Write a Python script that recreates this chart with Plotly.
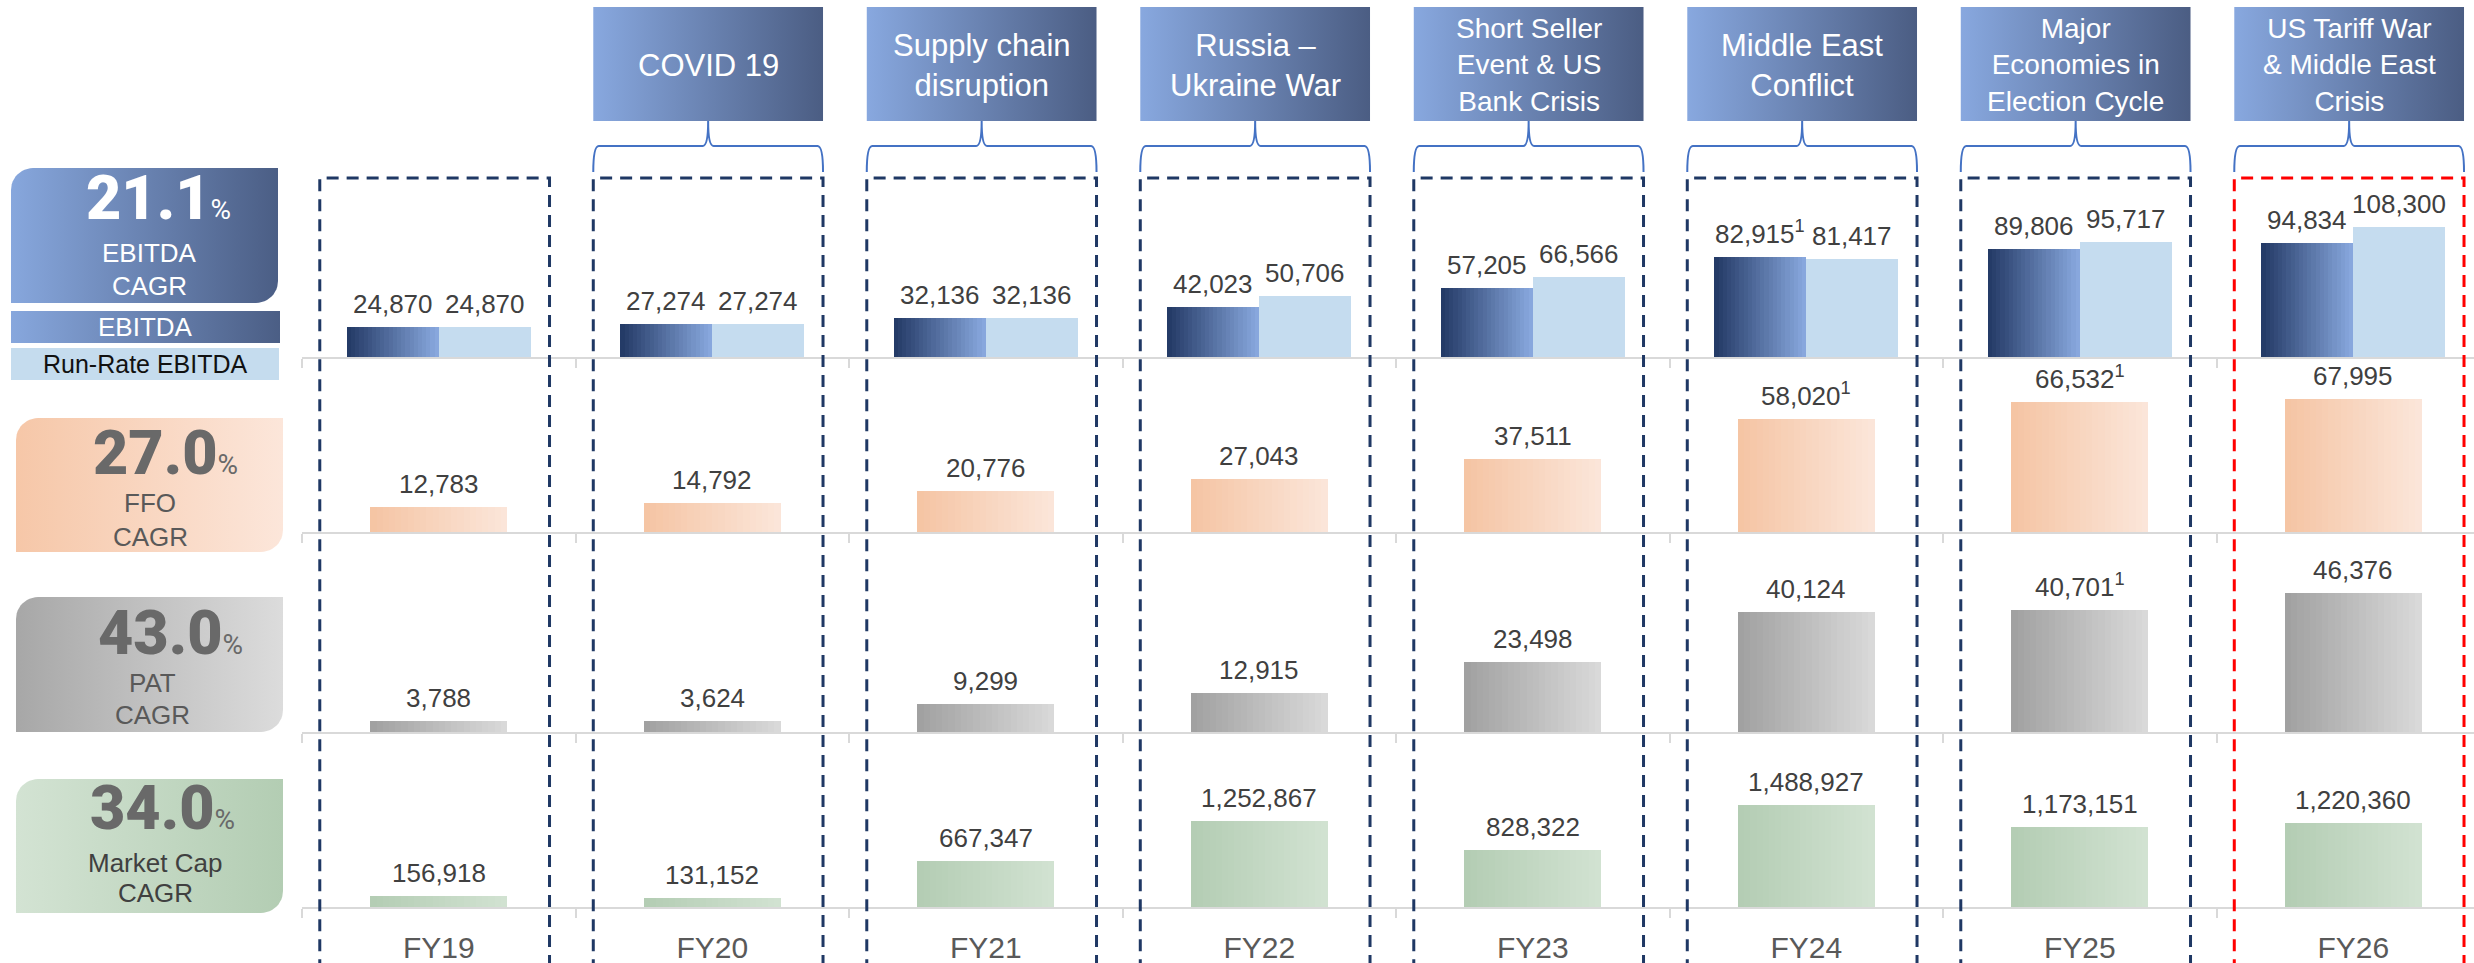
import numpy as np
import plotly.graph_objects as go

W, H = 2474, 963

# ---------------- data ----------------
categories = ["FY19", "FY20", "FY21", "FY22", "FY23", "FY24", "FY25", "FY26"]
ebitda = [24870, 27274, 32136, 42023, 57205, 82915, 89806, 94834]
ebitda_note = [0, 0, 0, 0, 0, 1, 0, 0]
run_rate_ebitda = [24870, 27274, 32136, 50706, 66566, 81417, 95717, 108300]
ffo = [12783, 14792, 20776, 27043, 37511, 58020, 66532, 67995]
ffo_note = [0, 0, 0, 0, 0, 1, 1, 0]
pat = [3788, 3624, 9299, 12915, 23498, 40124, 40701, 46376]
pat_note = [0, 0, 0, 0, 0, 0, 1, 0]
market_cap = [156918, 131152, 667347, 1252867, 828322, 1488927, 1173151, 1220360]
mcap_note = [0, 0, 0, 0, 0, 0, 0, 0]
events = ["", "COVID 19", "Supply chain<br>disruption", "Russia –<br>Ukraine War",
          "Short Seller<br>Event & US<br>Bank Crisis", "Middle East<br>Conflict",
          "Major<br>Economies in<br>Election Cycle", "US Tariff War<br>& Middle East<br>Crisis"]
highlight_year = "FY26"
cagr_metrics = ["EBITDA", "FFO", "PAT", "Market Cap"]
cagr_values = [21.1, 27.0, 43.0, 34.0]

# ---------------- helpers ----------------
FONT = "Liberation Sans, Arial, sans-serif"
NUMFONT = "Roboto, Liberation Sans, Arial, sans-serif"


def hex2rgb(h):
    h = h.lstrip("#")
    return tuple(int(h[i:i + 2], 16) for i in (0, 2, 4))


def mix(c0, c1, t):
    a, b = hex2rgb(c0), hex2rgb(c1)
    return "rgb(%d,%d,%d)" % tuple(round(a[k] + (b[k] - a[k]) * t) for k in range(3))


def label(v, note):
    s = f"{v:,}"
    return s + ("<sup>1</sup>" if note else "")


fig = go.Figure()
xpos = list(range(len(categories)))


def grad_bars(vals, xa, ya, off, bw, c0, c1, n=22):
    for i in range(n):
        fig.add_trace(go.Bar(
            x=xpos, y=vals, offset=off + i * bw / n, width=bw - i * bw / n,
            marker=dict(color=mix(c0, c1, (i + 0.5) / n), line=dict(width=0)),
            xaxis=xa, yaxis=ya, hoverinfo="skip", showlegend=False))


# ---------------- axes ----------------
X0 = 302 / W
XR = [-0.5, 7.5 - 16 / 273.5]
panels = [(357, 178), (532, 357), (732, 532), (907, 732)]  # baseline px, top px
yranges = [149100, 89470, 66730, 2555000]

layout = dict(
    width=W, height=H, margin=dict(l=0, r=0, t=0, b=0),
    paper_bgcolor="white", plot_bgcolor="rgba(0,0,0,0)",
    barmode="overlay", bargap=0, bargroupgap=0, showlegend=False,
    font=dict(family=FONT),
)
for k in range(4):
    xn = "xaxis" if k == 0 else f"xaxis{k + 1}"
    yn = "yaxis" if k == 0 else f"yaxis{k + 1}"
    base, top = panels[k]
    layout[yn] = dict(domain=[1 - base / H, 1 - top / H], range=[0, yranges[k]],
                      visible=False, fixedrange=True)
    layout[xn] = dict(
        domain=[X0, 1], range=XR, anchor="y" if k == 0 else f"y{k + 1}",
        showline=True, linecolor="#d9d9d9", linewidth=2, showgrid=False, zeroline=False,
        tickmode="array", tickvals=xpos, ticktext=categories, ticks="",
        showticklabels=(k == 3), ticklabelstandoff=13,
        tickfont=dict(size=30, color="#595959", family=FONT),
        minor=dict(tickmode="array", tickvals=[i - 0.5 for i in range(9)], ticks="outside",
                   ticklen=9, tickwidth=2, tickcolor="#d9d9d9", showgrid=False),
        fixedrange=True)
# top band for event boxes (pixel units from the top)
layout["yaxis5"] = dict(domain=[1 - 178 / H, 1], range=[178, 0], visible=False, anchor="x")
# full-figure pixel overlay for the left-hand legend boxes
layout["xaxis6"] = dict(domain=[0, 1], range=[0, W], visible=False, anchor="y6")
layout["yaxis6"] = dict(domain=[0, 1], range=[H, 0], visible=False, anchor="x6")
fig.update_layout(**layout)


# ---------------- left legend boxes ----------------
def rrect(x0, y0, x1, y1, r, n=12):
    xs, ys = [], []
    if r > 0:
        for k in range(n + 1):
            a = np.pi + k * (np.pi / 2) / n
            xs.append(x0 + r + r * np.cos(a)); ys.append(y0 + r + r * np.sin(a))
    else:
        xs.append(x0); ys.append(y0)
    xs.append(x1); ys.append(y0)
    if r > 0:
        for k in range(n + 1):
            a = k * (np.pi / 2) / n
            xs.append(x1 - r + r * np.cos(a)); ys.append(y1 - r + r * np.sin(a))
    else:
        xs.append(x1); ys.append(y1)
    xs.append(x0); ys.append(y1)
    xs.append(xs[0]); ys.append(ys[0])
    return xs, ys


def grad_poly(xs, ys, c0, c1, xa, ya):
    fig.add_trace(go.Scatter(
        x=xs, y=ys, mode="lines", line=dict(width=0, color=c0), fill="toself",
        fillcolor=c0,
        fillgradient=dict(type="horizontal", colorscale=[[0, c0], [1, c1]]),
        xaxis=xa, yaxis=ya, hoverinfo="skip", showlegend=False))


EB0, EB1 = "#87a7dd", "#4b5e85"
left_boxes = [
    ((11, 168, 278, 303, 22), EB0, EB1),
    ((11, 311, 280, 343, 0), EB0, EB1),
    ((11, 348, 279, 380, 0), "#c5dcee", "#c5dcee"),
    ((16, 418, 283, 552, 22), "#f6c7a8", "#fce6da"),
    ((16, 597, 283, 732, 22), "#a7a7a7", "#dcdcdc"),
    ((16, 779, 283, 913, 22), "#d3e3d3", "#b3cdb3"),
]
for (x0, y0, x1, y1, r), c0, c1 in left_boxes:
    xs, ys = rrect(x0, y0, x1, y1, r)
    grad_poly(xs, ys, c0, c1, "x6", "y6")

ann = []


def txt(x, y, t, size, color, family=FONT, weight=None, xref="x6", yref="y6"):
    f = dict(size=size, color=color, family=family)
    if weight:
        f["weight"] = weight
    ann.append(dict(x=x, y=y, xref=xref, yref=yref, text=t, showarrow=False,
                    font=f, xanchor="center", yanchor="middle"))


cagr_layout = [  # (number x, number y, name lines y, name x, num color, text color)
    (158, 198, [253, 286], 149, "white", "white"),
    (165, 453, [503, 537], 150, "#696969", "#595959"),
    (170, 633, [683, 715], 152, "#696969", "#595959"),
    (162, 808, [863, 893], 155, "#696969", "#404040"),
]
for (nx, ny, ly, lx, nc, tc), name, val in zip(cagr_layout, cagr_metrics, cagr_values):
    txt(nx, ny, f"{val:.1f}<span style='font-size:28px;font-weight:400'>%</span>", 61, nc,
        family=NUMFONT, weight=900)
    txt(lx, ly[0], name, 26, tc)
    txt(lx, ly[1], "CAGR", 26, tc)
txt(145, 327, "EBITDA", 26, "white")
txt(145, 364, "Run-Rate EBITDA", 25, "#111111")

# ---------------- event boxes, braces, dashed frames ----------------
BOX_OFF, BOX_HW = -0.015, 0.42
shapes = []
for i, ev in enumerate(events):
    c = i + BOX_OFF
    x0, x1 = c - BOX_HW, c + BOX_HW
    if ev:
        grad_poly([x0, x1, x1, x0, x0], [7, 7, 121, 121, 7], "#88a8df", "#4b5d83", "x", "y5")
        nlines = ev.count("<br>") + 1
        ann.append(dict(x=c, y=65, xref="x", yref="y5", text=ev, showarrow=False,
                        font=dict(size=31 if nlines < 3 else 28, color="white", family=FONT),
                        xanchor="center", yanchor="middle"))
        d = 0.02
        yt, ym, yb = 121, 146, 172
        shapes.append(dict(
            type="path", xref="x", yref="y5", layer="above",
            path=(f"M {x0},{yb} Q {x0},{ym} {x0 + d},{ym} L {c - d},{ym} "
                  f"Q {c},{ym} {c},{yt} Q {c},{ym} {c + d},{ym} L {x1 - d},{ym} "
                  f"Q {x1},{ym} {x1},{yb}"),
            line=dict(color="#4472c4", width=2)))
    col = "#ff0000" if categories[i] == highlight_year else "#1f3864"
    ytop = 1 - 178 / H
    shapes.append(dict(
        type="path", xref="x", yref="paper", layer="above",
        path=f"M {x0},-0.05 L {x0},{ytop} L {x1},{ytop} L {x1},-0.05",
        line=dict(color=col, width=3, dash="12px,8px")))

# ---------------- bars ----------------
EBW = 0.336
grad_bars(ebitda, "x", "y", -EBW, EBW, "#223864", "#8aaae0")
fig.add_trace(go.Bar(x=xpos, y=run_rate_ebitda, offset=0, width=EBW,
                     marker=dict(color="#c5dcef", line=dict(width=0)),
                     xaxis="x", yaxis="y", hoverinfo="skip", showlegend=False))
SBW = 0.5
grad_bars(ffo, "x2", "y2", -SBW / 2, SBW, "#f5c4a3", "#fbe6da")
grad_bars(pat, "x3", "y3", -SBW / 2, SBW, "#a0a0a0", "#dadada")
grad_bars(market_cap, "x4", "y4", -SBW / 2, SBW, "#b3cdb3", "#d2e2d2")

LBL = dict(size=26, color="#404040", family=FONT)
for i in xpos:
    ann.append(dict(x=i - EBW / 2, y=ebitda[i], xref="x", yref="y", text=label(ebitda[i], ebitda_note[i]),
                    showarrow=False, font=LBL, yanchor="bottom", yshift=6))
    ann.append(dict(x=i + EBW / 2, y=run_rate_ebitda[i], xref="x", yref="y",
                    text=label(run_rate_ebitda[i], 0), showarrow=False, font=LBL,
                    yanchor="bottom", yshift=6))
    for vals, notes, xa, ya in [(ffo, ffo_note, "x2", "y2"), (pat, pat_note, "x3", "y3"),
                                (market_cap, mcap_note, "x4", "y4")]:
        ann.append(dict(x=i, y=vals[i], xref=xa, yref=ya, text=label(vals[i], notes[i]),
                        showarrow=False, font=LBL, yanchor="bottom", yshift=6))

fig.update_layout(shapes=shapes, annotations=ann)
fig.write_html("out.html", config={"displayModeBar": False},
               post_script="document.body.style.margin='0';document.body.style.overflow='hidden';")
